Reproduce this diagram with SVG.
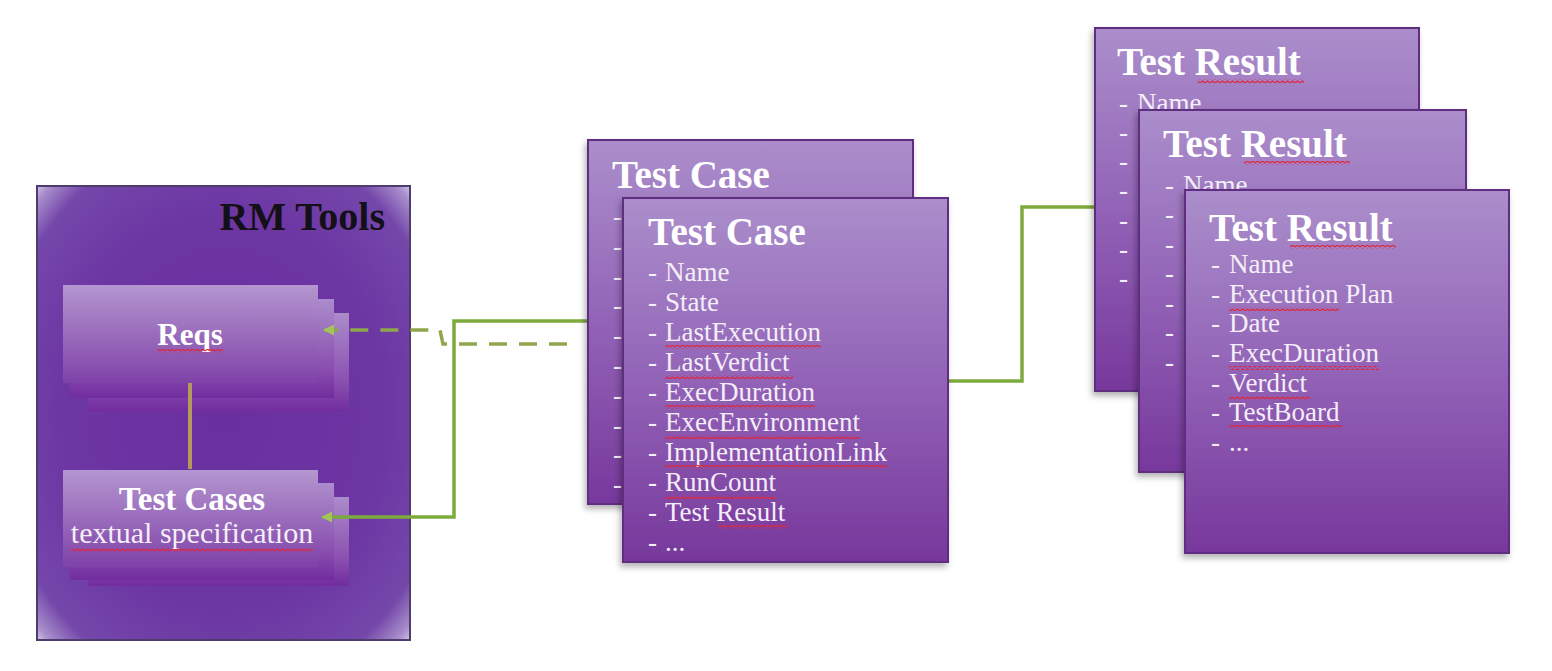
<svg xmlns="http://www.w3.org/2000/svg" width="1552" height="671" viewBox="0 0 1552 671">
  <defs>
    <style>
      .title { font-family: "Liberation Serif", "Times New Roman", serif; font-weight: bold; font-size: 39px; fill: #ffffff; }
      .item { font-family: "Liberation Serif", "Times New Roman", serif; font-size: 27px; fill: #f4eef8; }
      .rmtitle { font-family: "Liberation Serif", "Times New Roman", serif; font-weight: bold; font-size: 40px; fill: #141018; }
      .lbl { font-family: "Liberation Serif", "Times New Roman", serif; font-weight: bold; fill: #ffffff; text-anchor: middle; }
      .sub { font-family: "Liberation Serif", "Times New Roman", serif; font-size: 30px; fill: #f4eef8; text-anchor: middle; }
      .card { fill: url(#cardGrad); stroke: #5e2d80; stroke-width: 2; filter: url(#shadow); }
      .stack { fill: url(#stackGrad); }
      .front { fill: url(#frontGrad); }
      .sq { fill: url(#wave); }
      .conn { fill: none; stroke: #7daa3c; stroke-width: 3.5; }
      .dash { fill: none; stroke: #8fa74c; stroke-width: 3.5; stroke-dasharray: 18 12; }
      .link { fill: none; stroke: #b49a5c; stroke-width: 4; }
    </style>
    <linearGradient id="cardGrad" x1="0" y1="0" x2="0" y2="1">
      <stop offset="0" stop-color="#ab8ecb"/>
      <stop offset="0.5" stop-color="#9263b7"/>
      <stop offset="1" stop-color="#77389c"/>
    </linearGradient>
    <linearGradient id="frontGrad" x1="0" y1="0" x2="0" y2="1">
      <stop offset="0" stop-color="#b496d0"/>
      <stop offset="1" stop-color="#7f42a8"/>
    </linearGradient>
    <linearGradient id="stackGrad" x1="0" y1="0" x2="0" y2="1">
      <stop offset="0" stop-color="#ab8ccb"/>
      <stop offset="0.7" stop-color="#8a4fb0"/>
      <stop offset="1" stop-color="#712c9e"/>
    </linearGradient>
    <radialGradient id="rmGrad" cx="0.5" cy="0.5" r="0.72">
      <stop offset="0" stop-color="#6a2f9f"/>
      <stop offset="0.6" stop-color="#6c36a3"/>
      <stop offset="0.86" stop-color="#7447aa"/>
      <stop offset="0.95" stop-color="#a990cc"/>
      <stop offset="1" stop-color="#ebe3f3"/>
    </radialGradient>
    <pattern id="wave" width="5" height="4" patternUnits="userSpaceOnUse">
      <path d="M0,3 L2.5,1 L5,3" fill="none" stroke="#e0263c" stroke-width="1.2"/>
    </pattern>
    <filter id="shadow" x="-10%" y="-10%" width="125%" height="125%">
      <feDropShadow dx="-2" dy="4" stdDeviation="3" flood-color="#000000" flood-opacity="0.3"/>
    </filter>
    <marker id="arr" viewBox="0 0 10 10" refX="9" refY="5" markerWidth="3.2" markerHeight="3.2" orient="auto">
      <path d="M0,0 L10,5 L0,10 z" fill="#a2c35e"/>
    </marker>
  </defs>

  <rect width="1552" height="671" fill="#ffffff"/>

  <!-- RM Tools container -->
  <g id="rm-tools">
    <rect x="37" y="186" width="373" height="454" fill="url(#rmGrad)" stroke="#4e3d6c" stroke-width="2"/>
    <text class="rmtitle" x="385" y="230" text-anchor="end">RM Tools</text>
  </g>

  <!-- Reqs stack -->
  <g id="reqs">
    <rect class="stack" x="88" y="313" width="261" height="99"/>
    <rect class="stack" x="70" y="299" width="264" height="99"/>
    <rect class="front" x="63" y="285" width="255" height="98"/>
    <text class="lbl" x="190" y="345" font-size="31">Reqs</text>
    <rect class="sq" x="157" y="349" width="66" height="4"/>
  </g>

  <!-- Test Cases stack -->
  <g id="test-cases">
    <rect class="stack" x="88" y="497" width="261" height="89"/>
    <rect class="stack" x="70" y="483" width="264" height="97"/>
    <rect class="front" x="63" y="470" width="255" height="97"/>
    <text class="lbl" x="192" y="510" font-size="33">Test Cases</text>
    <text class="sub" x="192" y="543">textual specification</text>
    <rect class="sq" x="71" y="548" width="242" height="4"/>
  </g>

  <!-- Connectors -->
  <g id="connectors">
    <path class="link" d="M190,383 V469"/>
    <path class="dash" d="M567,344 H443 L440,330 H324" marker-end="url(#arr)"/>
    <path class="conn" d="M588,321 H454 V517 H322" marker-end="url(#arr)"/>
    <path class="conn" d="M949,381 H1022 V207 H1094"/>
  </g>

  <!-- Test Case (back) -->
  <g id="test-case-back">
    <rect class="card" x="588" y="140" width="325" height="364"/>
    <text class="title" x="612" y="188">Test Case</text>
    <text class="item" x="613" y="225">-</text>
    <text class="item" x="613" y="255">-</text>
    <text class="item" x="613" y="285">-</text>
    <text class="item" x="613" y="314">-</text>
    <text class="item" x="613" y="344">-</text>
    <text class="item" x="613" y="374">-</text>
    <text class="item" x="613" y="404">-</text>
    <text class="item" x="613" y="434">-</text>
    <text class="item" x="613" y="463">-</text>
    <text class="item" x="613" y="493">-</text>
  </g>

  <!-- Test Case (front) -->
  <g id="test-case-front">
    <rect class="card" x="623" y="198" width="325" height="364"/>
    <text class="title" x="648" y="245">Test Case</text>
    <text class="item" x="648" y="281">-</text><text class="item" x="665" y="281">Name</text>
    <text class="item" x="648" y="311">-</text><text class="item" x="665" y="311">State</text>
    <text class="item" x="648" y="341">-</text><text class="item" x="665" y="341">LastExecution</text>
    <text class="item" x="648" y="371">-</text><text class="item" x="665" y="371">LastVerdict</text>
    <text class="item" x="648" y="401">-</text><text class="item" x="665" y="401">ExecDuration</text>
    <text class="item" x="648" y="431">-</text><text class="item" x="665" y="431">ExecEnvironment</text>
    <text class="item" x="648" y="461">-</text><text class="item" x="665" y="461">ImplementationLink</text>
    <text class="item" x="648" y="491">-</text><text class="item" x="665" y="491">RunCount</text>
    <text class="item" x="648" y="521">-</text><text class="item" x="665" y="521">Test Result</text>
    <text class="item" x="648" y="551">-</text><text class="item" x="665" y="551">...</text>
    <rect class="sq" x="665" y="345" width="156" height="4"/>
    <rect class="sq" x="665" y="375" width="128" height="4"/>
    <rect class="sq" x="665" y="405" width="150" height="4"/>
    <rect class="sq" x="665" y="435" width="195" height="4"/>
    <rect class="sq" x="665" y="465" width="222" height="4"/>
    <rect class="sq" x="665" y="495" width="111" height="4"/>
    <rect class="sq" x="718" y="525" width="70" height="4"/>
  </g>

  <!-- Test Result (back) -->
  <g id="test-result-back">
    <rect class="card" x="1095" y="28" width="324" height="363"/>
    <text class="title" x="1117" y="75">Test Result</text>
    <rect class="sq" x="1198" y="79" width="106" height="4"/>
    <text class="item" x="1137" y="112">Name</text>
    <text class="item" x="1119" y="112">-</text>
    <text class="item" x="1119" y="141">-</text>
    <text class="item" x="1119" y="170">-</text>
    <text class="item" x="1119" y="199">-</text>
    <text class="item" x="1119" y="229">-</text>
    <text class="item" x="1119" y="258">-</text>
    <text class="item" x="1119" y="287">-</text>
  </g>

  <!-- Test Result (middle) -->
  <g id="test-result-middle">
    <rect class="card" x="1139" y="110" width="327" height="362"/>
    <text class="title" x="1163" y="157">Test Result</text>
    <rect class="sq" x="1244" y="161" width="106" height="4"/>
    <text class="item" x="1183" y="194">Name</text>
    <text class="item" x="1165" y="194">-</text>
    <text class="item" x="1165" y="223">-</text>
    <text class="item" x="1165" y="253">-</text>
    <text class="item" x="1165" y="282">-</text>
    <text class="item" x="1165" y="312">-</text>
    <text class="item" x="1165" y="341">-</text>
    <text class="item" x="1165" y="371">-</text>
  </g>

  <!-- Test Result (front) -->
  <g id="test-result-front">
    <rect class="card" x="1185" y="190" width="324" height="363"/>
    <text class="title" x="1209" y="241">Test Result</text>
    <rect class="sq" x="1290" y="245" width="106" height="4"/>
    <text class="item" x="1211" y="273">-</text><text class="item" x="1229" y="273">Name</text>
    <text class="item" x="1211" y="303">-</text><text class="item" x="1229" y="303">Execution Plan</text>
    <text class="item" x="1211" y="332">-</text><text class="item" x="1229" y="332">Date</text>
    <text class="item" x="1211" y="362">-</text><text class="item" x="1229" y="362">ExecDuration</text>
    <text class="item" x="1211" y="392">-</text><text class="item" x="1229" y="392">Verdict</text>
    <text class="item" x="1211" y="421">-</text><text class="item" x="1229" y="421">TestBoard</text>
    <text class="item" x="1211" y="451">-</text><text class="item" x="1229" y="451">...</text>
    <rect class="sq" x="1229" y="307" width="110" height="4"/>
    <rect class="sq" x="1229" y="366" width="150" height="4"/>
    <rect class="sq" x="1229" y="396" width="81" height="4"/>
    <rect class="sq" x="1229" y="425" width="113" height="4"/>
  </g>
</svg>
